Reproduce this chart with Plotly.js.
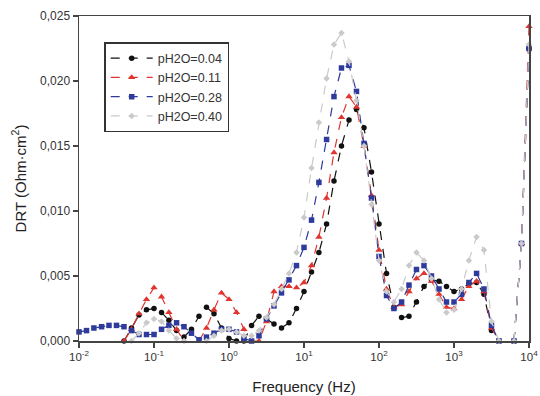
<!DOCTYPE html>
<html>
<head>
<meta charset="utf-8">
<script src="https://cdn.plot.ly/plotly-3.0.1.min.js"></script>
<style>
  html, body { margin: 0; padding: 0; background: #ffffff; }
  #chart { width: 540px; height: 396px; }
</style>
</head>
<body>
<div id="chart"></div>
<script>
// Frequency grid (Hz), 10 points per decade
const freq = [0.01,0.0126,0.0158,0.02,0.0251,0.0316,0.0398,0.0501,0.0631,0.0794,
  0.1,0.126,0.158,0.2,0.251,0.316,0.398,0.501,0.631,0.794,
  1,1.26,1.58,2,2.51,3.16,3.98,5.01,6.31,7.94,
  10,12.6,15.8,20,25.1,31.6,39.8,50.1,63.1,79.4,
  100,126,158,200,251,316,398,501,631,794,
  1000,1260,1580,2000,2510,3160,3980,5010,6310,7940,10000];

const seriesNames = ["pH2O=0.04", "pH2O=0.11", "pH2O=0.28", "pH2O=0.40"];

const drt004 = [null,null,null,null,null,null,0,0.0010,0.0020,0.0024,
  0.0025,0.0022,0.0016,0.0008,0.0003,0.0009,0.0019,0.0026,0.0021,0.0010,
  0.0002,0,0,0.0012,0.0019,0.0017,0.0013,0.0010,0.0014,0.0025,
  0.0038,0.0053,0.0068,0.0090,0.0123,0.0150,0.0170,0.0178,0.0164,0.0130,
  0.0090,0.0052,0.0026,0.0018,0.0019,0.0030,0.0042,0.0047,0.0046,0.0042,
  0.0038,0.0040,0.0044,0.0045,0.0036,0.0008,0,null,0,0.0075,0.0225];

const drt011 = [null,null,null,null,null,null,0,0.0009,0.0021,0.0032,
  0.0041,0.0034,0.0022,0.0009,0,null,0,0.0010,0.0024,0.0037,
  0.0032,0.0022,0.0009,0,0,0.0015,0.0038,0.0042,0.0042,0.0041,
  0.0045,0.0058,0.0080,0.0110,0.0145,0.0172,0.0188,0.0180,0.0150,0.0112,
  0.0070,0.0040,0.0026,0.0028,0.0038,0.0048,0.0052,0.0046,0.0036,0.0026,
  0.0025,0.0032,0.0042,0.0046,0.0038,0.0010,0,null,0,0.0075,0.0242];

const drt028 = [0.0007,0.0008,0.0010,0.0011,0.0012,0.0012,0.0011,0.0008,0.0005,0.0005,
  0.0005,0.0009,0.0012,0.0014,0.0011,0.0006,0.0001,0.0003,0.0006,0.0009,
  0.0009,0.0007,0.0002,0,0.0004,0.0017,0.0027,0.0037,0.0047,0.0058,
  0.0072,0.0093,0.0122,0.0155,0.0188,0.0210,0.0212,0.0192,0.0152,0.0110,
  0.0065,0.0035,0.0025,0.0030,0.0043,0.0055,0.0058,0.0050,0.0040,0.0030,
  0.0030,0.0036,0.0045,0.0052,0.0040,0.0012,0,null,0,0.0075,0.0225];

const drt040 = [null,null,null,null,null,null,null,0,0.0006,0.0014,
  0.0017,0.0015,0.0008,0.0002,0,null,null,0,0.0004,0.0008,
  0.0009,0.0007,0.0004,0.0004,0.0008,0.0018,0.0028,0.0040,0.0052,0.0068,
  0.0095,0.0133,0.0168,0.0202,0.0228,0.0237,0.0215,0.0185,0.0150,0.0105,
  0.0062,0.0038,0.0030,0.0040,0.0058,0.0068,0.0062,0.0048,0.0032,0.0022,
  0.0024,0.0040,0.0062,0.0080,0.0070,0.0015,0,null,0,0.0075,0.0228];

const xTickVals = [0.01, 0.1, 1, 10, 100, 1000, 10000];
const xTickText = ["10<sup>-2</sup>","10<sup>-1</sup>","10<sup>0</sup>","10<sup>1</sup>","10<sup>2</sup>","10<sup>3</sup>","10<sup>4</sup>"];
const yTickVals = [0, 0.005, 0.010, 0.015, 0.020, 0.025];

const styles = [
  {color: "#111111", symbol: "circle", size: 5.5},
  {color: "#e0352f", symbol: "triangle-up", size: 6.5},
  {color: "#2e3a9c", symbol: "square", size: 5.5},
  {color: "#cacaca", symbol: "diamond", size: 5}
];
const values = [drt004, drt011, drt028, drt040];

const traces = values.map((v, k) => ({
  x: freq, y: v, name: seriesNames[k], type: "scatter", mode: "lines+markers",
  connectgaps: false, cliponaxis: false,
  line: {color: styles[k].color, width: 1.2, dash: "dash"},
  marker: {color: styles[k].color, symbol: styles[k].symbol, size: styles[k].size}
}));

const layout = {
  width: 540, height: 396,
  margin: {l: 79, r: 11, t: 16, b: 55},
  paper_bgcolor: "#ffffff", plot_bgcolor: "#ffffff",
  separators: ", ",
  font: {family: "Liberation Sans, Arial, sans-serif", size: 12, color: "#333333"},
  showlegend: true,
  legend: {
    x: 0.056, y: 0.92, xanchor: "left", yanchor: "top",
    bordercolor: "#333333", borderwidth: 1.5, bgcolor: "#ffffff",
    font: {size: 12.5, color: "#333333"}, tracegroupgap: 0,
    itemwidth: 42
  },
  xaxis: {
    type: "log", range: [-2, 4],
    tickvals: xTickVals, ticktext: xTickText,
    ticks: "outside", ticklen: 5, tickcolor: "#444444", tickwidth: 1.2,
    showline: true, linecolor: "#444444", linewidth: 1.5, mirror: true,
    showgrid: false, zeroline: false,
    tickfont: {size: 11.5, color: "#333333"},
    title: {text: "Frequency (Hz)", font: {size: 15, color: "#222222"}, standoff: 19}
  },
  yaxis: {
    range: [0, 0.025],
    tickvals: yTickVals, tickformat: ".3f",
    ticks: "outside", ticklen: 5, tickcolor: "#444444", tickwidth: 1.2,
    showline: true, linecolor: "#444444", linewidth: 1.5, mirror: true,
    showgrid: false, zeroline: false,
    tickfont: {size: 12, color: "#333333"},
    title: {text: "DRT (Ohm·cm<sup>2</sup>)", font: {size: 15, color: "#222222"}, standoff: 10}
  }
};

Plotly.newPlot("chart", traces, layout, {displayModeBar: false, staticPlot: true});
</script>
</body>
</html>
